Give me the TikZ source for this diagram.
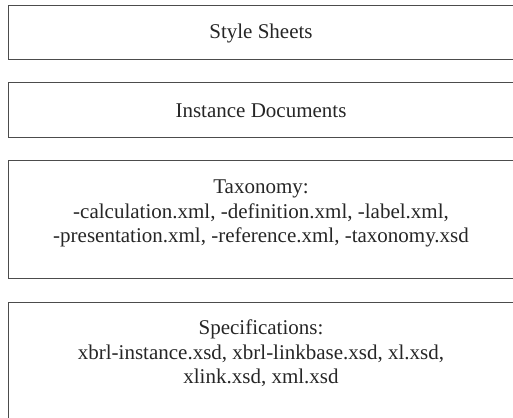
\documentclass[tikz,border=0pt]{standalone}
\usepackage{fontspec}
\setmainfont{Liberation Serif}
\begin{document}
\begin{tikzpicture}[x=1pt,y=-1pt,
  boxst/.style={draw=black!70, line width=1pt, inner sep=0pt, minimum width=506pt},
  txt/.style={align=center, font=\fontsize{21}{24.5}\selectfont, text=black!85, inner sep=0pt}]
\useasboundingbox (0,0) rectangle (513,417);
\clip (0,0) rectangle (513,417);
\node[boxst, minimum height=54pt] (b1) at (261,33) {};
\node[boxst, minimum height=54pt] (b2) at (261,110) {};
\node[boxst, minimum height=118pt] (b3) at (261,219) {};
\node[boxst, minimum height=118pt] (b4) at (261,361) {};
\node[txt] (t1) at (261,33.5) {Style Sheets};
\node[txt] (t2) at (261,110.5) {Instance Documents};
\node[txt] (t3) at (261,213.5) {Taxonomy:\\-calculation.xml, -definition.xml, -label.xml,\\-presentation.xml, -reference.xml, -taxonomy.xsd};
\node[txt] (t4) at (261,353.5) {Specifications:\\xbrl-instance.xsd, xbrl-linkbase.xsd, xl.xsd,\\xlink.xsd, xml.xsd};
\end{tikzpicture}
\end{document}
